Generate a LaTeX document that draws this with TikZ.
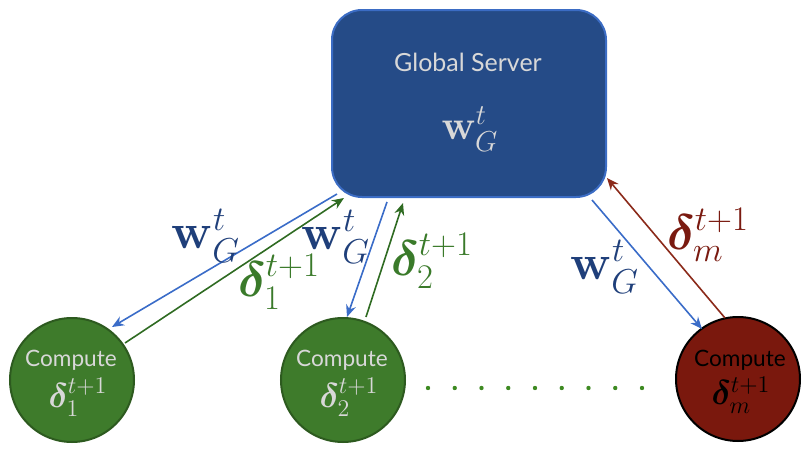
\documentclass[tikz,border=0pt]{standalone}
\usepackage{amsmath,bm}
\usepackage[no-math]{fontspec}
\newfontfamily\labelfont{Lato}
\usetikzlibrary{arrows.meta}
\definecolor{srvfill}{HTML}{254B87}
\definecolor{srvedge}{HTML}{3B6CC4}
\definecolor{bluearr}{HTML}{3A6CC8}
\definecolor{bluelab}{HTML}{1F3F7A}
\definecolor{grnfill}{HTML}{3E7B2B}
\definecolor{grnedge}{HTML}{2D5A1F}
\definecolor{grnarr}{HTML}{2F6B22}
\definecolor{grnlab}{HTML}{3A7A2A}
\definecolor{redfill}{HTML}{7A180D}
\definecolor{redarr}{HTML}{8B2A1A}
\definecolor{redlab}{HTML}{7A1A10}
\definecolor{softtext}{HTML}{D8D8D8}
\definecolor{dotgrn}{HTML}{3E8A22}
\tikzset{
  worker/.style={circle, minimum size=62pt, inner sep=0pt, line width=1pt},
  cmptxt/.style={font=\labelfont\fontsize{11.3}{12}\selectfont, inner sep=0pt},
  dlttxt/.style={font=\fontsize{18}{18}\selectfont, inner sep=0pt},
  arr/.style={-{Stealth[length=6pt,width=5pt]}, line width=0.8pt},
  biglab/.style={font=\fontsize{26.5}{30}\selectfont, inner sep=0pt},
}
\begin{document}
\begin{tikzpicture}[x=0.5pt,y=-0.5pt]
\useasboundingbox (0,0) rectangle (811,450);
% server
\node[draw=srvedge, fill=srvfill, line width=1pt, rounded corners=15pt,
      minimum width=137pt, minimum height=93.5pt, inner sep=0pt] (srv) at (469,103.5) {};
\node[text=softtext, font=\labelfont\fontsize{12.5}{14}\selectfont, inner sep=0pt] (srvname) at (468,62) {Global Server};
\node[text=softtext, font=\fontsize{21}{24}\selectfont, inner sep=0pt] (srvw) at (470,129) {$\mathbf{w}_G^t$};
% workers
\node[worker, draw=grnedge, fill=grnfill] (c1) at (72,380) {};
\node[worker, draw=grnedge, fill=grnfill] (c2) at (343,380) {};
\node[worker, draw=black, fill=redfill] (cm) at (738,379) {};
\node[cmptxt, text=softtext] (c1t) at (71,360) {Compute};
\node[cmptxt, text=softtext] (c2t) at (342,360) {Compute};
\node[cmptxt, text=black] (cmt) at (740,360) {Compute};
\node[dlttxt, text=softtext] (c1d) at (78,397) {$\bm{\delta}_1^{t+1}$};
\node[dlttxt, text=softtext] (c2d) at (349,397) {$\bm{\delta}_2^{t+1}$};
\node[dlttxt, text=black] (cmd) at (741,395) {$\bm{\delta}_m^{t+1}$};
% coordinates for arrow ends
\coordinate (a1s) at (337,194); \coordinate (a1e) at (112,327);
\coordinate (b1s) at (125,343); \coordinate (b1e) at (344,198);
\coordinate (a2s) at (387,202); \coordinate (a2e) at (347,317);
\coordinate (b2s) at (366,317); \coordinate (b2e) at (403,203);
\coordinate (ams) at (592,200); \coordinate (ame) at (702,329);
\coordinate (bms) at (725,318); \coordinate (bme) at (607,178);
\draw[arr, bluearr] (a1s) -- (a1e);
\draw[arr, grnarr] (b1s) -- (b1e);
\draw[arr, bluearr] (a2s) -- (a2e);
\draw[arr, grnarr] (b2s) -- (b2e);
\draw[arr, bluearr] (ams) -- (ame);
\draw[arr, redarr] (bms) -- (bme);
% labels
\node[biglab, text=bluelab] (l1) at (206,236) {$\mathbf{w}_G^t$};
\node[biglab, text=grnlab] (l2) at (279,282) {$\bm{\delta}_1^{t+1}$};
\node[biglab, text=bluelab] (l3) at (336,237) {$\mathbf{w}_G^t$};
\node[biglab, text=grnlab] (l4) at (432,261) {$\bm{\delta}_2^{t+1}$};
\node[biglab, text=bluelab] (l5) at (605,267) {$\mathbf{w}_G^t$};
\node[biglab, text=redlab] (l6) at (708,235) {$\bm{\delta}_m^{t+1}$};
% dots
\foreach \i in {0,...,8} {
  \fill[dotgrn] (428+26.75*\i,388) circle (1.1pt);
}
\end{tikzpicture}
\end{document}
